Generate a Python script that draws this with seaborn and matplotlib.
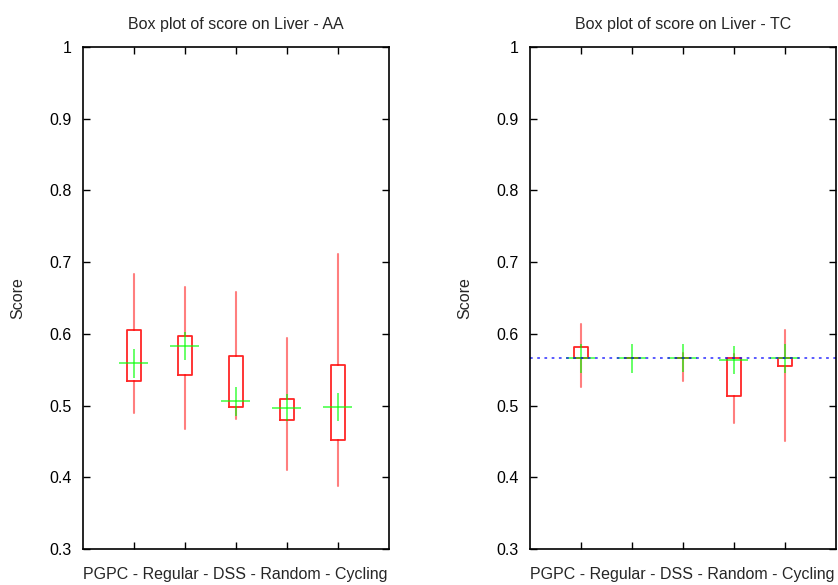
import matplotlib
matplotlib.use("Agg")
import matplotlib.pyplot as plt
import seaborn as sns
import numpy as np
import pandas as pd

methods = ["PGPC", "Regular", "DSS", "Random", "Cycling"]

# Liver - AA: box statistics per method
aa_whislo = [0.490, 0.467, 0.481, 0.410, 0.388]
aa_q1 = [0.534, 0.543, 0.498, 0.480, 0.452]
aa_q3 = [0.606, 0.597, 0.569, 0.509, 0.556]
aa_whishi = [0.684, 0.666, 0.659, 0.594, 0.712]
aa_mean = [0.559, 0.583, 0.506, 0.497, 0.498]
aa_mean_lo = [0.538, 0.563, 0.485, 0.478, 0.478]
aa_mean_hi = [0.579, 0.602, 0.526, 0.516, 0.518]

# Liver - TC: box statistics per method
tc_whislo = [0.526, 0.566, 0.534, 0.476, 0.451]
tc_q1 = [0.566, 0.566, 0.566, 0.513, 0.555]
tc_q3 = [0.582, 0.567, 0.567, 0.566, 0.566]
tc_whishi = [0.614, 0.567, 0.574, 0.572, 0.605]
tc_mean = [0.566, 0.566, 0.566, 0.564, 0.566]
tc_mean_lo = [0.546, 0.545, 0.547, 0.544, 0.546]
tc_mean_hi = [0.586, 0.586, 0.586, 0.583, 0.586]
tc_reference = 0.566

sns.set_theme(style="white")
plt.rcParams["font.family"] = ["Liberation Sans", "DejaVu Sans"]

W, H = 838, 585
FS = 11.5
fig = plt.figure(figsize=(W / 100, H / 100), dpi=100)


def panel(rect, title, whislo, q1, q3, whishi, mean, mlo, mhi, ref=None):
    ax = fig.add_axes(rect)
    pos = np.arange(1, len(methods) + 1)
    stats = [dict(whislo=a, q1=b, med=(b + c) / 2, q3=c, whishi=d, label=m)
             for a, b, c, d, m in zip(whislo, q1, q3, whishi, methods)]
    ax.bxp(stats, positions=pos, widths=0.28, showcaps=False, showfliers=False,
           boxprops=dict(color="red", alpha=0.85, linewidth=1.3),
           whiskerprops=dict(color="red", alpha=0.5, linewidth=1.5),
           medianprops=dict(linewidth=0),
           manage_ticks=False)
    df = pd.DataFrame({"x": pos, "mean": mean, "lo": mlo, "hi": mhi})
    ax.errorbar(df["x"], df["mean"], xerr=0.285,
                yerr=[df["mean"] - df["lo"], df["hi"] - df["mean"]],
                fmt="none", ecolor="lime", elinewidth=1.4, alpha=0.6,
                capsize=0)
    if ref is not None:
        ax.axhline(ref, color="blue", linestyle=(0, (1.5, 2.5)),
                   linewidth=1.3, alpha=0.7)
    ax.set_xlim(0, 6)
    ax.set_ylim(0.3, 1.0)
    ax.set_xticks(pos)
    ax.set_xticklabels([])
    ax.set_yticks([0.3, 0.4, 0.5, 0.6, 0.7, 0.8, 0.9, 1.0])
    ax.set_yticklabels(["0.3", "0.4", "0.5", "0.6", "0.7", "0.8", "0.9", "1"])
    ax.tick_params(direction="in", length=5, width=1, top=True, right=True,
                   left=True, bottom=True, labelsize=FS, colors="black",
                   pad=8)
    ax.tick_params(axis="y", labelright=False)
    for s in ax.spines.values():
        s.set_color("black")
        s.set_linewidth(1.2)
    ax.set_title(title, fontsize=FS, pad=13)
    ax.set_xlabel(" - ".join(methods), fontsize=FS, labelpad=5)
    ax.set_ylabel("Score", fontsize=FS, labelpad=17)
    return ax


bottom = (H - 549) / H
height = 502 / H
panel([82.7 / W, bottom, 306 / W, height], "Box plot of score on Liver - AA",
      aa_whislo, aa_q1, aa_q3, aa_whishi, aa_mean, aa_mean_lo, aa_mean_hi)
panel([529.7 / W, bottom, 306 / W, height], "Box plot of score on Liver - TC",
      tc_whislo, tc_q1, tc_q3, tc_whishi, tc_mean, tc_mean_lo, tc_mean_hi,
      ref=tc_reference)

fig.savefig("out.png", dpi=100)
